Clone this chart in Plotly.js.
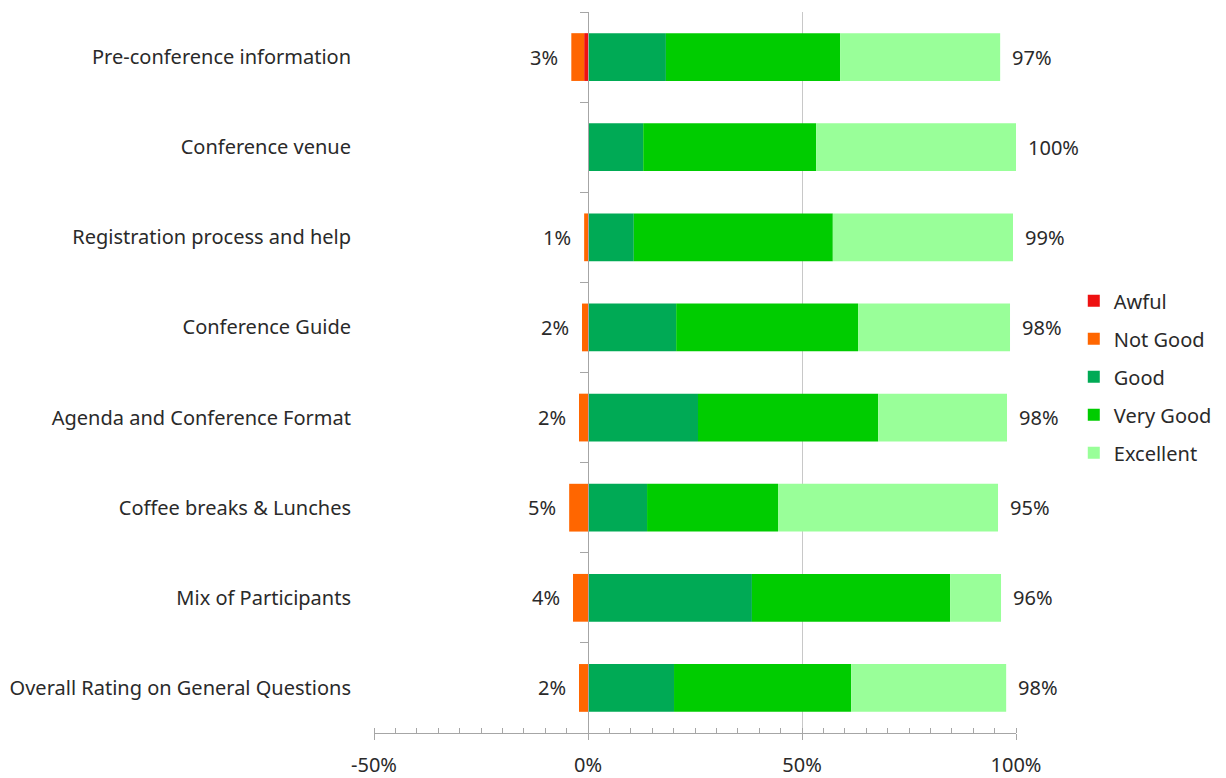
<!DOCTYPE html>
<html>
<head>
<meta charset="utf-8">
<script src="https://cdn.plot.ly/plotly-3.0.1.min.js"></script>
<style>html,body{margin:0;padding:0;background:#fff;}#chart{width:1226px;height:778px;}</style>
</head>
<body>
<div id="chart"></div>
<script>
const categories = [
  'Pre-conference information',
  'Conference venue',
  'Registration process and help',
  'Conference Guide',
  'Agenda and Conference Format',
  'Coffee breaks & Lunches',
  'Mix of Participants',
  'Overall Rating on General Questions'
];
// percentages
const awful    = [0.9, 0,    0,    0,    0,    0,    0,    0];
const notGood  = [3.0, 0,    0.9,  1.4,  2.1,  4.4,  3.5,  2.1];
const good     = [18.2, 12.9, 10.7, 20.6, 25.7, 13.8, 38.3, 20.1];
const veryGood = [40.7, 40.4, 46.5, 42.5, 42.1, 30.6, 46.3, 41.4];
const excellent= [37.4, 46.7, 42.1, 35.5, 30.1, 51.4, 11.9, 36.2];
const negLabels = ['3%', '', '1%', '2%', '2%', '5%', '4%', '2%'];
const posLabels = ['97%', '100%', '99%', '98%', '98%', '95%', '96%', '98%'];
const xTickVals = [-50, 0, 50, 100];
const xTickText = ['-50%', '0%', '50%', '100%'];

const seriesNames = ['Awful', 'Not Good', 'Good', 'Very Good', 'Excellent'];
const seriesColors = ['#ee1111', '#ff6600', '#00aa55', '#00cc00', '#99ff99'];
const seriesVals = [
  awful.map(v => -v),
  notGood.map(v => -v),
  good, veryGood, excellent
];

const FONT = '"Noto Sans", "Open Sans", sans-serif';
const FS = 20;
const TXT = '#2a2a2a';

const traces = seriesNames.map((name, i) => ({
  type: 'bar',
  orientation: 'h',
  name: name,
  y: categories,
  x: seriesVals[i],
  width: 0.53,
  legendgroup: 'g' + i,
  marker: {color: seriesColors[i], line: {width: 0}},
  hoverinfo: 'name+x'
}));

const negTotals = categories.map((c, i) => awful[i] + notGood[i]);
const posTotals = categories.map((c, i) => Math.min(100, good[i] + veryGood[i] + excellent[i]));

// invisible helper trace for the category axis drawn at x = 0
traces.push({
  type: 'scatter', mode: 'markers', y: categories, x: negTotals.map(v => -v),
  yaxis: 'y2', marker: {opacity: 0}, showlegend: false, hoverinfo: 'skip'
});

const annotations = [];
categories.forEach((c, i) => {
  if (negLabels[i]) annotations.push({
    x: -negTotals[i], y: c, text: negLabels[i], showarrow: false,
    xanchor: 'right', xshift: -11, font: {family: FONT, size: FS, color: TXT}
  });
  annotations.push({
    x: posTotals[i], y: c, text: posLabels[i], showarrow: false,
    xanchor: 'left', xshift: 10, font: {family: FONT, size: FS, color: TXT}
  });
});

const layout = {
  width: 1226, height: 778,
  margin: {l: 374, r: 210, t: 12, b: 45, autoexpand: false},
  paper_bgcolor: '#ffffff', plot_bgcolor: '#ffffff',
  barmode: 'relative',
  bargap: 0.47,
  font: {family: FONT, size: FS, color: TXT},
  showlegend: true,
  legend: {
    x: 1.09, xanchor: 'left', y: 0.494, yanchor: 'middle',
    traceorder: 'grouped', tracegroupgap: 9,
    font: {family: FONT, size: FS, color: TXT},
    itemwidth: 30, bgcolor: 'rgba(0,0,0,0)'
  },
  xaxis: {
    range: [-50, 100], tickvals: xTickVals, ticktext: xTickText,
    showgrid: true, gridcolor: '#c8c8c8', gridwidth: 1,
    zeroline: false, showline: true, linecolor: '#a6a6a6', linewidth: 1,
    ticks: 'outside', ticklen: 6, tickcolor: '#a6a6a6',
    ticklabelstandoff: 8, automargin: false,
    minor: {dtick: 5, ticks: 'inside', ticklen: 5, tickcolor: '#a6a6a6', showgrid: false},
    tickfont: {family: FONT, size: FS, color: TXT}, fixedrange: true
  },
  yaxis: {
    type: 'category', categoryarray: categories, range: [7.5, -0.5],
    showgrid: false, zeroline: false, showline: false, ticks: '',
    ticklabelstandoff: 22, automargin: false,
    tickfont: {family: FONT, size: FS, color: TXT}, fixedrange: true
  },
  yaxis2: {
    type: 'category', categoryarray: categories, range: [7.5, -0.5],
    overlaying: 'y', anchor: 'free', position: 1 / 3, side: 'left',
    showgrid: false, zeroline: false, showline: true, linecolor: '#a6a6a6', linewidth: 1,
    ticks: 'outside', tickson: 'boundaries', ticklen: 8, tickcolor: '#a6a6a6',
    showticklabels: false, automargin: false, fixedrange: true
  },
  annotations: annotations
};

Plotly.newPlot('chart', traces, layout, {displayModeBar: false, staticPlot: true});
</script>
</body>
</html>
